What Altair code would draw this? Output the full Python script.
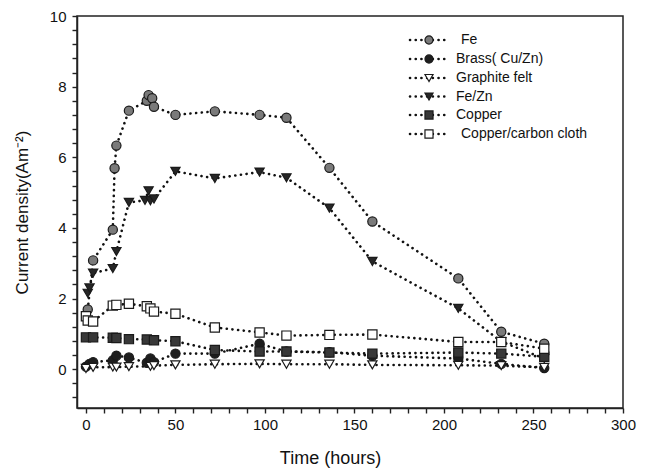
import altair as alt
import pandas as pd

SERIES = ["Fe", "Brass( Cu/Zn)", "Graphite felt", "Fe/Zn", "Copper", "Copper/carbon cloth"]

fe_t = [1, 4, 15, 16, 17, 24, 34, 35, 37, 38, 50, 72, 97, 112, 136, 160, 208, 232, 256]
fe_v = [1.69, 3.08, 3.95, 5.69, 6.33, 7.32, 7.6, 7.76, 7.67, 7.43, 7.2, 7.3, 7.2, 7.12, 5.7, 4.18, 2.57, 1.06, 0.72]

brass_t = [0, 2, 4, 15, 17, 24, 34, 36, 38, 50, 72, 97, 112, 136, 160, 208, 232, 256]
brass_v = [0.07, 0.15, 0.2, 0.25, 0.38, 0.33, 0.18, 0.3, 0.2, 0.44, 0.44, 0.72, 0.5, 0.48, 0.38, 0.3, 0.15, 0.03]

graph_t = [0, 4, 15, 17, 24, 36, 38, 50, 72, 97, 112, 136, 160, 208, 232, 256]
graph_v = [0.02, 0.05, 0.06, 0.06, 0.07, 0.08, 0.1, 0.12, 0.14, 0.15, 0.14, 0.14, 0.12, 0.11, 0.1, 0.05]

fezn_t = [1, 2, 4, 15, 17, 24, 33, 35, 36, 38, 50, 72, 97, 112, 136, 160, 208, 232, 256]
fezn_v = [2.15, 2.3, 2.72, 2.85, 3.33, 4.72, 4.78, 5.05, 4.77, 4.82, 5.6, 5.4, 5.58, 5.42, 4.56, 3.05, 1.72, 0.78, 0.3]

cu_t = [0, 4, 15, 17, 24, 34, 38, 50, 72, 97, 112, 136, 160, 208, 232, 256]
cu_v = [0.9, 0.9, 0.89, 0.88, 0.85, 0.84, 0.82, 0.79, 0.54, 0.5, 0.5, 0.47, 0.44, 0.47, 0.44, 0.35]

cucc_t = [0, 1, 4, 15, 17, 24, 34, 36, 38, 50, 72, 97, 112, 136, 160, 208, 232, 256]
cucc_v = [1.5, 1.38, 1.35, 1.8, 1.82, 1.85, 1.78, 1.72, 1.63, 1.57, 1.18, 1.04, 0.95, 0.97, 0.98, 0.77, 0.77, 0.58]

x_ticks = list(range(0, 301, 10))
y_ticks = [round(-0.8 + 0.4 * i, 1) for i in range(28)]

SHAPES = ["circle", "circle", "triangle-down", "triangle-down", "square", "square"]
FILLS = ["#7a7a7a", "#1e1e1e", "white", "#262626", "#383838", "white"]

series_data = [(fe_t, fe_v), (brass_t, brass_v), (graph_t, graph_v),
               (fezn_t, fezn_v), (cu_t, cu_v), (cucc_t, cucc_v)]
rows = []
for name, (ts, vs) in zip(SERIES, series_data):
    for t, v in zip(ts, vs):
        rows.append({"series": name, "time": t, "density": v})
df = pd.DataFrame(rows)

x_axis = alt.Axis(values=x_ticks, title="Time (hours)", tickCount=31, ticks=True,
                  labelExpr="datum.value % 50 == 0 ? format(datum.value, 'd') : ''",
                  titlePadding=17, titleX=253, titleFontSize=18, labelFlush=False)
y_axis = alt.Axis(values=y_ticks, title="Current density(Am\u207b\u00b2)", tickCount=28, ticks=True,
                  labelExpr="abs(datum.value % 2) < 0.001 ? format(datum.value, 'd') : ''",
                  titlePadding=18, labelFlush=False, labelPadding=6)
x_scale = alt.Scale(domain=[-5, 300], nice=False, zero=False)
y_scale = alt.Scale(domain=[-1.1, 10], nice=False, zero=False)

xs = alt.X("time:Q", scale=x_scale, axis=x_axis)
ys = alt.Y("density:Q", scale=y_scale, axis=y_axis)

base = alt.Chart(df)
lines = base.mark_line(strokeDash=[0.1, 5.6], strokeCap="round", strokeWidth=2.6, color="#111").encode(
    x=xs, y=ys, detail="series:N")
points = base.mark_point(filled=True, size=85, stroke="#1a1a1a", strokeWidth=1.2, opacity=1).encode(
    x=xs, y=ys,
    shape=alt.Shape("series:N", scale=alt.Scale(domain=SERIES, range=SHAPES), legend=None),
    fill=alt.Fill("series:N", scale=alt.Scale(domain=SERIES, range=FILLS), legend=None),
)

# manual legend (pixel layout inside the plot area)
leg_rows_y = [24, 43, 62, 80.5, 99, 118]
leg_label_dx = [5, 0, 0, 0, 0, 5]
one = pd.DataFrame({"a": [0]})
legend_layers = []
for i, name in enumerate(SERIES):
    yy = leg_rows_y[i]
    legend_layers.append(alt.Chart(one).mark_rule(strokeDash=[0.1, 5.6], strokeCap="round",
                                                  strokeWidth=2.6, color="#111").encode(
        x=alt.value(333), x2=alt.value(372), y=alt.value(yy)))
    legend_layers.append(alt.Chart(one).mark_point(filled=True, size=65, stroke="#1a1a1a",
                                                   strokeWidth=1.2, opacity=1,
                                                   shape=SHAPES[i], fill=FILLS[i]).encode(
        x=alt.value(352), y=alt.value(yy)))
    legend_layers.append(alt.Chart(one).mark_text(text=name, align="left", baseline="middle",
                                                  font="Liberation Sans", fontSize=14, color="#111").encode(
        x=alt.value(379 + leg_label_dx[i]), y=alt.value(yy)))

chart = alt.layer(lines, points, *legend_layers).properties(
    width=546, height=392,
    autosize=alt.AutoSizeParams(type="none"),
    padding={"left": 69, "top": 8, "right": 14, "bottom": 60},
).configure_view(stroke="#222", strokeWidth=1.5).configure_axis(
    grid=False, domainColor="#222", domainWidth=1.5, tickColor="#222", tickSize=5, tickWidth=1.4,
    labelFont="Liberation Sans", labelFontSize=15, labelColor="#111", labelPadding=4,
    titleFont="Liberation Sans", titleFontSize=17, titleFontWeight="normal", titleColor="#111",
    labelOverlap=False, labelBound=False,
)

chart.save("out.html", embed_options={"renderer": "svg", "actions": False})
